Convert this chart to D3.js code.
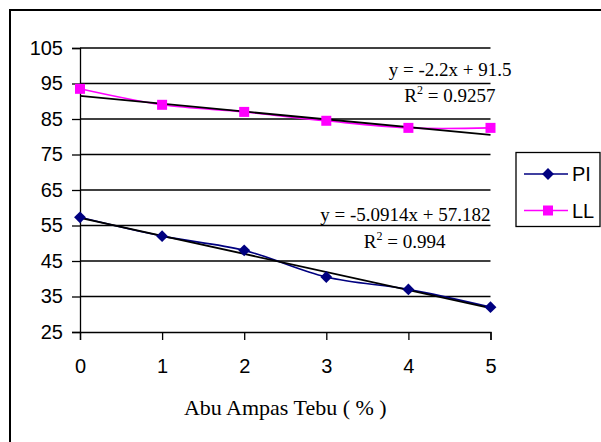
<!DOCTYPE html>
<html>
<head>
<meta charset="utf-8">
<script src="https://cdn.jsdelivr.net/npm/d3@7"></script>
<style>
  body { margin: 0; background: #fff; }
  svg { display: block; }
</style>
</head>
<body>
<div id="chart"></div>
<script>
// data
var xValues = [0, 1, 2, 3, 4, 5];
var piValues = [57.3, 52, 48, 40.5, 37, 32];
var llValues = [93.5, 89, 87, 84.5, 82.5, 82.5];
var yTicks = [25, 35, 45, 55, 65, 75, 85, 95, 105];
var seriesNames = ["PI", "LL"];
var trendPI = { slope: -5.0914, intercept: 57.182, eq: "y = -5.0914x + 57.182", r2: "0.994" };
var trendLL = { slope: -2.2, intercept: 91.5, eq: "y = -2.2x + 91.5", r2: "0.9257" };
var xTitle = "Abu Ampas Tebu ( % )";

var W = 601, H = 442;
var plot = { left: 80, right: 490.5, top: 48, bottom: 332 };

var svg = d3.select("#chart").append("svg").attr("width", W).attr("height", H);

// outer chart border (right/bottom run off the picture)
svg.append("rect").attr("x", 10).attr("y", 10).attr("width", 700).attr("height", 500)
  .attr("fill", "none").attr("stroke", "#000").attr("stroke-width", 2);

var x = d3.scaleLinear().domain([0, 5]).range([plot.left, plot.right]);
var y = d3.scaleLinear().domain([25, 105]).range([plot.bottom, plot.top]);

// gridlines
svg.append("g").selectAll("line").data(yTicks.slice(1)).enter().append("line")
  .attr("x1", plot.left).attr("x2", plot.right)
  .attr("y1", d => y(d)).attr("y2", d => y(d))
  .attr("stroke", "#000").attr("stroke-width", 1.3);

// y axis
var yAxis = svg.append("g").attr("transform", "translate(" + plot.left + ",0)")
  .call(d3.axisLeft(y).tickValues(yTicks).tickSize(8).tickPadding(9).tickFormat(d3.format("d")));
yAxis.select(".domain").attr("stroke-width", 1.3);
yAxis.selectAll(".tick line").attr("stroke-width", 1.3);
yAxis.selectAll("text").attr("font-family", "Liberation Sans, Arial, sans-serif").attr("font-size", 20).attr("fill", "#000");

// x axis
var xAxis = svg.append("g").attr("transform", "translate(0," + plot.bottom + ")")
  .call(d3.axisBottom(x).tickValues(xValues).tickSize(8).tickPadding(19).tickFormat(d3.format("d")));
xAxis.select(".domain").attr("stroke-width", 1.3);
xAxis.selectAll(".tick line").attr("stroke-width", 1.3);
xAxis.selectAll("text").attr("font-family", "Liberation Sans, Arial, sans-serif").attr("font-size", 20).attr("fill", "#000");

svg.append("text").attr("x", (plot.left + plot.right) / 2).attr("y", 415)
  .attr("text-anchor", "middle").attr("font-family", "Liberation Serif, Times New Roman, serif")
  .attr("font-size", 22).text(xTitle);

// series
var line = d3.line().curve(d3.curveCardinal.tension(0)).x(d => x(d[0])).y(d => y(d[1]));
var piData = xValues.map((v, i) => [v, piValues[i]]);
var llData = xValues.map((v, i) => [v, llValues[i]]);

svg.append("path").datum(piData).attr("d", line).attr("fill", "none").attr("stroke", "#000080").attr("stroke-width", 1.6);
svg.append("path").datum(llData).attr("d", line).attr("fill", "none").attr("stroke", "#ff00ff").attr("stroke-width", 1.6);

// trend lines
function trendPts(t) { return [[0, t.intercept], [5, t.intercept + 5 * t.slope]]; }
var straight = d3.line().x(d => x(d[0])).y(d => y(d[1]));
[trendPI, trendLL].forEach(function(t) {
  svg.append("path").datum(trendPts(t)).attr("d", straight).attr("fill", "none")
    .attr("stroke", "#000").attr("stroke-width", 1.8);
});

// markers
var diamond = d3.symbol().type(d3.symbolSquare).size(70);
svg.append("g").selectAll("path").data(piData).enter().append("path")
  .attr("transform", d => "translate(" + x(d[0]) + "," + y(d[1]) + ") rotate(45)")
  .attr("d", diamond).attr("fill", "#000080");
svg.append("g").selectAll("rect").data(llData).enter().append("rect")
  .attr("x", d => x(d[0]) - 5).attr("y", d => y(d[1]) - 5).attr("width", 10).attr("height", 10)
  .attr("fill", "#ff00ff");

// equation labels
function eqLabel(t, xr1, y1, xr2, y2) {
  var g = svg.append("g").attr("font-family", "Liberation Serif, Times New Roman, serif").attr("font-size", 19).attr("fill", "#000");
  g.append("text").attr("x", xr1).attr("y", y1).attr("text-anchor", "end").text(t.eq);
  var r = g.append("text").attr("x", xr2).attr("y", y2).attr("text-anchor", "end");
  r.append("tspan").text("R");
  r.append("tspan").attr("font-size", 12).attr("dy", -8).text("2");
  r.append("tspan").attr("dy", 8).text(" = " + t.r2);
}
eqLabel(trendLL, x(5) + 21, 76, x(5) + 5, 102);
eqLabel(trendPI, x(5), 220.5, x(5) - 45, 247.5);

// legend
var lg = svg.append("g");
lg.append("rect").attr("x", 516).attr("y", 152.5).attr("width", 84).attr("height", 74)
  .attr("fill", "#fff").attr("stroke", "#000").attr("stroke-width", 1.3);
var legendColors = ["#000080", "#ff00ff"];
seriesNames.forEach(function(name, i) {
  var cy = 174 + i * 36.5;
  lg.append("line").attr("x1", 524).attr("x2", 568).attr("y1", cy).attr("y2", cy)
    .attr("stroke", legendColors[i]).attr("stroke-width", 1.6);
  if (i === 0) {
    lg.append("path").attr("transform", "translate(548," + cy + ") rotate(45)").attr("d", diamond).attr("fill", legendColors[i]);
  } else {
    lg.append("rect").attr("x", 543).attr("y", cy - 5).attr("width", 10).attr("height", 10).attr("fill", legendColors[i]);
  }
  lg.append("text").attr("x", 572).attr("y", cy + 7).attr("font-family", "Liberation Sans, Arial, sans-serif")
    .attr("font-size", 20).text(name);
});
</script>
</body>
</html>
